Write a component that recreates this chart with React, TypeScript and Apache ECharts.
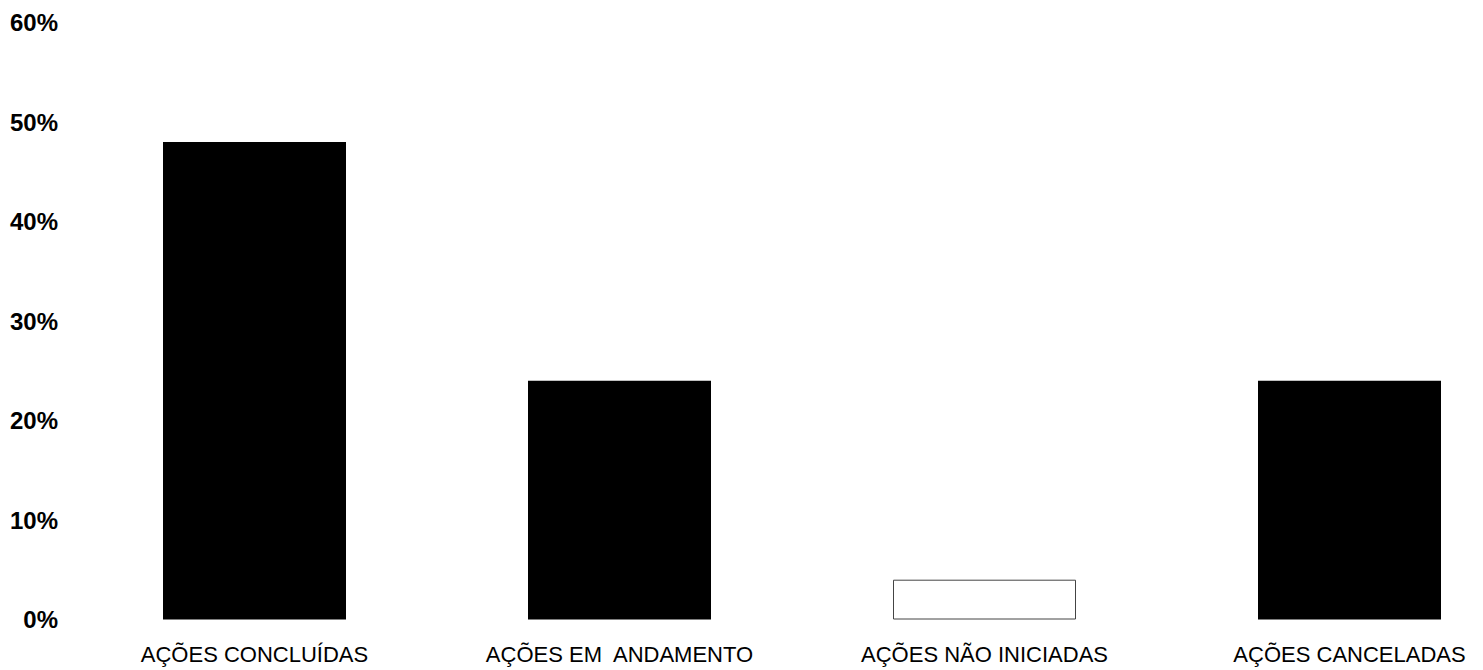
import React, { useEffect, useRef } from "react";
import * as echarts from "echarts";

const categories = ["AÇÕES CONCLUÍDAS", "AÇÕES EM  ANDAMENTO", "AÇÕES NÃO INICIADAS", "AÇÕES CANCELADAS"];
const values = [48, 24, 4, 24];
const barColors = ["#000000", "#000000", "#ffffff", "#000000"];
const yTicks = [0, 10, 20, 30, 40, 50, 60];

export default function App() {
  const ref = useRef<HTMLDivElement>(null);
  useEffect(() => {
    if (!ref.current) return;
    const chart = echarts.init(ref.current, undefined, { renderer: "svg" });
    chart.setOption({
      animation: false,
      backgroundColor: "#ffffff",
      grid: { left: 72, top: 22.5, width: 1460, height: 597, outerBoundsMode: "none", containLabel: false },
      xAxis: {
        type: "category",
        data: categories,
        axisLine: { show: false },
        axisTick: { show: false },
        axisLabel: {
          margin: 24,
          fontFamily: "Liberation Sans, Arial, sans-serif",
          fontSize: 22,
          color: "#000",
          interval: 0,
        },
      },
      yAxis: {
        type: "value",
        min: yTicks[0],
        max: yTicks[yTicks.length - 1],
        interval: 10,
        splitLine: { show: false },
        axisLine: { show: false },
        axisTick: { show: false },
        axisLabel: {
          margin: 14,
          formatter: "{value}%",
          fontFamily: "Liberation Sans, Arial, sans-serif",
          fontSize: 24,
          fontWeight: "bold",
          color: "#000",
        },
      },
      series: [
        {
          type: "bar",
          barWidth: 183,
          data: values.map((v, i) => ({
            value: v,
            itemStyle: {
              color: barColors[i],
              borderColor: i === 2 ? "#444" : "#000",
              borderWidth: i === 2 ? 1 : 0,
            },
          })),
        },
      ],
    });
    return () => chart.dispose();
  }, []);
  return (
    <div
      ref={ref}
      style={{ position: "absolute", left: 0, top: 0, width: 1483, height: 670, background: "#fff" }}
    />
  );
}
